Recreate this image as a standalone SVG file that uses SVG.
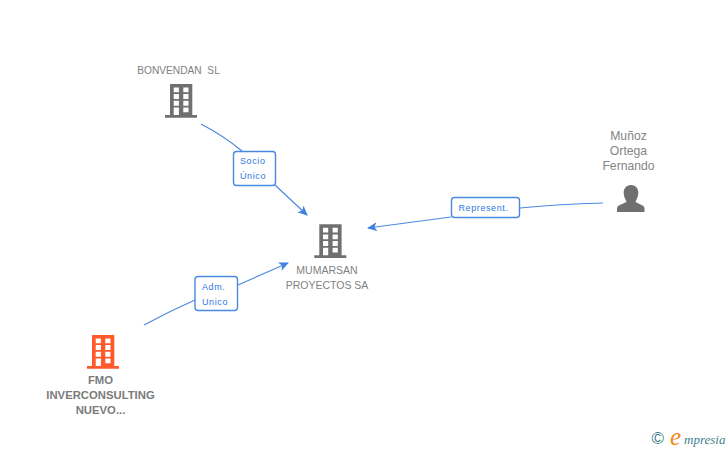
<svg xmlns="http://www.w3.org/2000/svg" width="728" height="450" viewBox="0 0 728 450">
<style>
text{font-family:"Liberation Sans",Arial,sans-serif}
.n{font-size:10.500px;fill:#7f7f7f;text-anchor:middle}
.p{font-size:12.200px;fill:#858585;text-anchor:middle}
.b{font-size:11.300px;fill:#7b7b7b;text-anchor:middle;font-weight:bold}
.l{font-size:9px;fill:#2f78e0;letter-spacing:.6px}
.c{fill:none;stroke:#4a89e0;stroke-width:1.200}
.box{fill:#fff;stroke:#4a89e0;stroke-width:1.400}
.g{fill:#707070}.o{fill:#ff5a2c}
.s{font-family:"Liberation Serif",serif;font-style:italic}
</style>
<defs>
<marker id="a" markerWidth="12" markerHeight="10" refX="9" refY="4.500" orient="auto" markerUnits="userSpaceOnUse"><path d="M0 0L10 4.500L0 9L2.500 4.500Z" fill="#3f82e0"/></marker>
<path id="bld" fill-rule="evenodd" d="M5 0H27.300V31H32V33.700H0V31H5ZM8.700 3.500V8.300H13.900V3.500ZM18.300 3.500V8.300H23.500V3.500ZM8.700 10.100V15H13.900V10.100ZM18.300 10.100V15H23.500V10.100ZM8.700 16.800V21.700H13.900V16.800ZM18.300 16.800V21.700H23.500V16.800ZM8.700 23.500V31H13.900V23.500ZM18.300 23.500V28.300H23.500V23.500Z"/>
</defs>
<g id="connectors">
<path class="c" d="M201 124Q224 136 242 151"/>
<path class="c" d="M275 185L307 215" marker-end="url(#a)"/>
<path class="c" d="M603 203Q560 204 520 208"/>
<path class="c" d="M451 217L368 228" marker-end="url(#a)"/>
<path class="c" d="M144 325Q170 311 195 300"/>
<path class="c" d="M238 285L288 263" marker-end="url(#a)"/>
</g>
<g id="node-bonvendan"><text class="n" x="178.500" y="74" style="white-space:pre;font-size:10.200px">BONVENDAN  SL</text><use href="#bld" class="g" x="165" y="84"/></g>
<g id="node-mumarsan"><use href="#bld" class="g" x="314.300" y="224.300"/><text class="n" x="327" y="274">MUMARSAN</text><text class="n" x="327" y="289">PROYECTOS SA</text></g>
<g id="node-munoz"><text class="p" x="628.500" y="140">Muñoz</text><text class="p" x="628.500" y="155">Ortega</text><text class="p" x="628.500" y="170">Fernando</text>
<path class="g" d="M631 185C636 185 638.500 189 638.300 193C638.200 197 636.500 199.500 635.500 201.500C636 203.500 644 204.500 644.500 208V212H617V208C617.500 204.500 625.500 203.500 626.500 201.500C625.500 199.500 623.800 197 623.700 193C623.500 189 626 185 631 185Z"/></g>
<g id="node-fmo"><use href="#bld" class="o" x="87" y="335"/><text class="b" x="100.500" y="384">FMO</text><text class="b" x="100.500" y="399">INVERCONSULTING</text><text class="b" x="100.500" y="414">NUEVO...</text></g>
<g id="label-socio"><rect class="box" x="233.500" y="151.500" width="42" height="34" rx="3"/><text class="l" x="240" y="164">Socio</text><text class="l" x="240" y="179">Único</text></g>
<g id="label-represent"><rect class="box" x="451.500" y="197.500" width="68" height="20" rx="3"/><text class="l" x="458.500" y="211">Represent.</text></g>
<g id="label-adm"><rect class="box" x="195" y="276.500" width="42.500" height="34" rx="3"/><text class="l" x="202" y="290">Adm.</text><text class="l" x="202" y="305">Unico</text></g>
<g id="logo"><text x="657.700" y="444" font-size="17" fill="#3f7f8f" text-anchor="middle">©</text>
<text class="s" x="670" y="445" font-size="25" fill="#f28a1e">e</text><text class="s" x="684" y="444" font-size="13" fill="#3f7f8f">mpresia</text></g>
</svg>
